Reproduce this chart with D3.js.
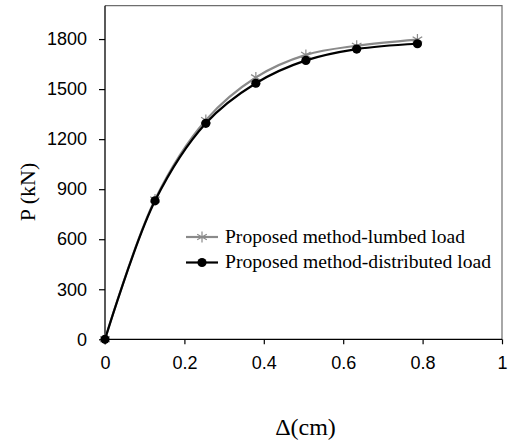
<!DOCTYPE html>
<html>
<head>
<meta charset="utf-8">
<script src="https://cdn.jsdelivr.net/npm/d3@7"></script>
<style>
  html, body { margin: 0; padding: 0; background: #fff; }
  svg { display: block; }
</style>
</head>
<body>
<svg id="chart" width="515" height="444"></svg>
<script>
const xValues = [0, 0.126, 0.254, 0.38, 0.506, 0.634, 0.787];
const lumbedLoad = [0, 838, 1314, 1570, 1705, 1760, 1797];
const distributedLoad = [0, 830, 1295, 1535, 1672, 1740, 1772];
const xTicks = [0, 0.2, 0.4, 0.6, 0.8, 1];
const yTicks = [0, 300, 600, 900, 1200, 1500, 1800];
const seriesNames = ["Proposed method-lumbed load", "Proposed method-distributed load"];
const xTitle = "\u0394(cm)";
const yTitle = "P (kN)";

const svg = d3.select("#chart");
const L = 105, R = 502, T = 5.7, B = 339.3;
const x = d3.scaleLinear().domain([0, 1]).range([L, R]);
const y = d3.scaleLinear().domain([0, 2000]).range([B, T]);

// frame (top & right)
svg.append("path")
  .attr("d", `M${L},${T}H${R}V${B}`)
  .attr("fill", "none").attr("stroke", "#6e6e6e").attr("stroke-width", 1.2);

// axes
const xAxis = d3.axisBottom(x).tickValues(xTicks).tickSize(5).tickPadding(12)
  .tickFormat(d => d === 0 ? "0" : d === 1 ? "1" : d3.format(".1f")(d));
const gx = svg.append("g").attr("transform", `translate(0,${B})`).call(xAxis);
const yAxis = d3.axisLeft(y).tickValues(yTicks).tickSize(6).tickPadding(12).tickFormat(d3.format("d"));
const gy = svg.append("g").attr("transform", `translate(${L},0)`).call(yAxis);
[gx, gy].forEach(g => {
  g.select(".domain").attr("stroke", "#000").attr("stroke-width", 1.3);
  g.selectAll(".tick line").attr("stroke", "#000").attr("stroke-width", 1.2);
  g.selectAll("text").attr("font-family", "'Liberation Sans', Arial, sans-serif")
    .attr("font-size", 18).attr("fill", "#000");
});
gy.select(".domain").attr("d", `M0,${B}V${T}`);
gx.select(".domain").attr("d", `M${L},0H${R}`);

const line = d3.line()
  .x(d => x(d[0])).y(d => y(d[1]))
  .curve(d3.curveCatmullRom.alpha(0.5));

const lumbedPts = xValues.map((v, i) => [v, lumbedLoad[i]]);
const distPts = xValues.map((v, i) => [v, distributedLoad[i]]);

const starPath = "M0,-5.5V5.5M-4.8,-2.8L4.8,2.8M-4.8,2.8L4.8,-2.8";

svg.append("path").datum(lumbedPts).attr("d", line)
  .attr("fill", "none").attr("stroke", "#8a8a8a").attr("stroke-width", 2.2);
svg.selectAll(".star").data(lumbedPts).enter().append("path")
  .attr("transform", d => `translate(${x(d[0])},${y(d[1])})`)
  .attr("d", starPath).attr("stroke", "#8a8a8a").attr("stroke-width", 1.2).attr("fill", "none");

svg.append("path").datum(distPts).attr("d", line)
  .attr("fill", "none").attr("stroke", "#000").attr("stroke-width", 2.2);
svg.selectAll(".dot").data(distPts).enter().append("circle")
  .attr("cx", d => x(d[0])).attr("cy", d => y(d[1])).attr("r", 4.6).attr("fill", "#000");

// legend
const legY = [237, 262.5];
const lg = svg.append("g");
lg.append("line").attr("x1", 186).attr("x2", 218).attr("y1", legY[0]).attr("y2", legY[0])
  .attr("stroke", "#8a8a8a").attr("stroke-width", 2.2);
lg.append("path").attr("transform", `translate(202,${legY[0]})`).attr("d", starPath)
  .attr("stroke", "#8a8a8a").attr("stroke-width", 1.2).attr("fill", "none");
lg.append("line").attr("x1", 186).attr("x2", 218).attr("y1", legY[1]).attr("y2", legY[1])
  .attr("stroke", "#000").attr("stroke-width", 2.2);
lg.append("circle").attr("cx", 202).attr("cy", legY[1]).attr("r", 4.6).attr("fill", "#000");
const legLen = [240, 266];
seriesNames.forEach((n, i) => {
  lg.append("text").attr("x", 225).attr("y", legY[i] + 5.5)
    .attr("font-family", "'Liberation Serif', 'Times New Roman', serif")
    .attr("font-size", 18).attr("fill", "#000")
    .attr("textLength", legLen[i]).attr("lengthAdjust", "spacingAndGlyphs")
    .text(n);
});

// titles
svg.append("text").attr("x", (L + R) / 2 + 2).attr("y", 435)
  .attr("text-anchor", "middle")
  .attr("font-family", "'Liberation Serif', 'Times New Roman', serif")
  .attr("font-size", 24).attr("fill", "#000").text(xTitle);
svg.append("text").attr("transform", "translate(35,192) rotate(-90)")
  .attr("text-anchor", "middle")
  .attr("font-family", "'Liberation Serif', 'Times New Roman', serif")
  .attr("font-size", 22).attr("fill", "#000").text(yTitle);
</script>
</body>
</html>
